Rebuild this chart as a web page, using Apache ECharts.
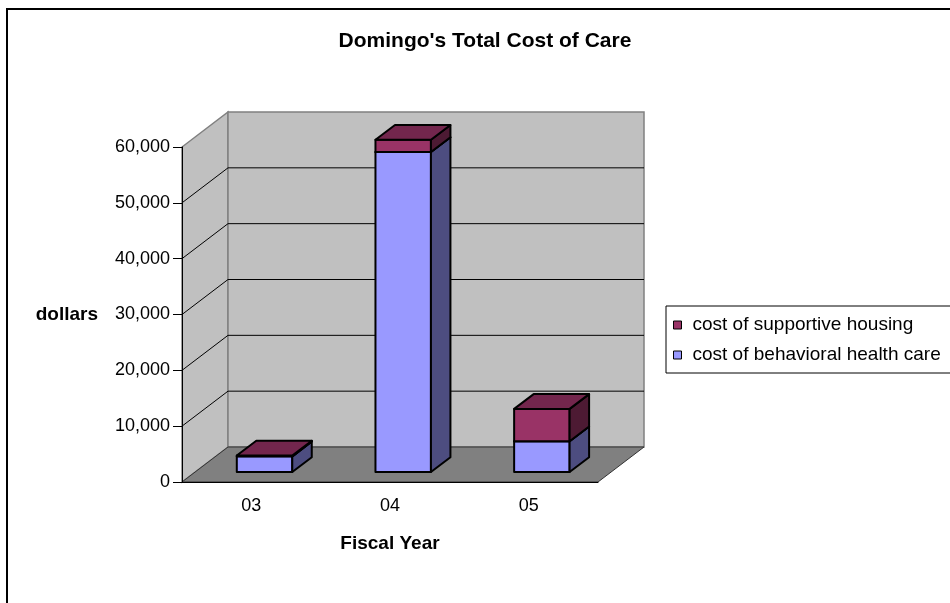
<!DOCTYPE html>
<html>
<head>
<meta charset="utf-8">
<title>Domingo's Total Cost of Care</title>
<script src="https://cdn.jsdelivr.net/npm/echarts@6/dist/echarts.min.js"></script>
<style>
html, body { margin: 0; padding: 0; background: #fff; }
#main { width: 950px; height: 603px; }
</style>
</head>
<body>
<div id="main"></div>
<script>
// values
const categories = ['03', '04', '05']
const behavioralCare = [2800, 57300, 5500]
const supportiveHousing = [150, 2200, 5800]
const housingName = 'cost of supportive housing'
const careName = 'cost of behavioral health care'
const yMax = 60000
const yStep = 10000

// fake 3d depth, in pixels
const WALL_DX = 46, WALL_DY = -35
const BAR_FX = 13.2, BAR_FY = -10
const BAR_DX = 19.5, BAR_DY = -14.8
const BAR_RATIO = 0.4

const FONT = 'Liberation Sans, Arial, sans-serif'

function boxItem (front, side, top) {
  return function (params, api) {
    const i = api.value(0)
    const lo = api.coord([i, api.value(1)])
    const hi = api.coord([i, api.value(2)])
    const w = api.size([1, 0])[0] * BAR_RATIO
    const x0 = lo[0] - w / 2 + BAR_FX
    const x1 = x0 + w
    const yb = lo[1] + BAR_FY
    const yt = hi[1] + BAR_FY
    const edge = { stroke: '#000', lineWidth: 2, lineJoin: 'round' }
    return {
      type: 'group',
      children: [
        { type: 'rect', shape: { x: x0, y: yt, width: w, height: yb - yt }, style: Object.assign({ fill: front }, edge) },
        { type: 'polygon', shape: { points: [[x1, yb], [x1, yt], [x1 + BAR_DX, yt + BAR_DY], [x1 + BAR_DX, yb + BAR_DY]] }, style: Object.assign({ fill: side }, edge) },
        { type: 'polygon', shape: { points: [[x0, yt], [x1, yt], [x1 + BAR_DX, yt + BAR_DY], [x0 + BAR_DX, yt + BAR_DY]] }, style: Object.assign({ fill: top }, edge) }
      ]
    }
  }
}

function wallsItem (params, api) {
  const cs = params.coordSys
  const x = cs.x, y = cs.y, w = cs.width, h = cs.height
  const b = y + h
  const children = [
    { type: 'polygon', shape: { points: [[x, b], [x, y], [x + WALL_DX, y + WALL_DY], [x + WALL_DX, b + WALL_DY]] }, style: { fill: '#c0c0c0', stroke: '#808080', lineWidth: 1.5 } },
    { type: 'rect', shape: { x: x + WALL_DX, y: y + WALL_DY, width: w, height: h }, style: { fill: '#c0c0c0', stroke: '#808080', lineWidth: 1.5 } },
    { type: 'polygon', shape: { points: [[x, b], [x + w, b], [x + w + WALL_DX, b + WALL_DY], [x + WALL_DX, b + WALL_DY]] }, style: { fill: '#808080', stroke: '#333', lineWidth: 1 } }
  ]
  for (let v = yStep; v < yMax; v += yStep) {
    const yy = api.coord([0, v])[1]
    children.push({
      type: 'polyline',
      shape: { points: [[x, yy], [x + WALL_DX, yy + WALL_DY], [x + w + WALL_DX, yy + WALL_DY]] },
      style: { stroke: '#000', lineWidth: 1, fill: null }
    })
  }
  return { type: 'group', children: children }
}

const careData = categories.map((c, i) => [i, 0, behavioralCare[i]])
const housingData = categories.map((c, i) => [i, behavioralCare[i], behavioralCare[i] + supportiveHousing[i]])

let myChart = echarts.init(document.getElementById('main'))
myChart.setOption({
  animation: false,
  backgroundColor: '#fff',
  textStyle: { fontFamily: FONT },
  title: {
    text: "Domingo's Total Cost of Care",
    left: 485,
    top: 31,
    padding: 0,
    textAlign: 'center',
    textStyle: { fontSize: 21, fontWeight: 'bold', color: '#000', fontFamily: FONT }
  },
  graphic: [{
    type: 'rect',
    shape: { x: 7, y: 9, width: 960, height: 620 },
    style: { fill: null, stroke: '#000', lineWidth: 2 },
    z: 100
  }],
  legend: {
    orient: 'vertical',
    left: 666,
    top: 306,
    padding: [9, 40, 8, 7],
    itemGap: 10,
    itemWidth: 8,
    itemHeight: 8,
    icon: 'rect',
    borderColor: '#000',
    borderWidth: 1,
    data: [housingName, careName],
    itemStyle: { borderColor: '#000', borderWidth: 1 },
    textStyle: { fontSize: 19, lineHeight: 20, color: '#000', fontFamily: FONT, padding: [0, 0, 0, 6] },
    selectedMode: false
  },
  grid: { left: 182, top: 147, right: 352, bottom: 121 },
  xAxis: {
    type: 'category',
    data: categories,
    z: 10,
    name: 'Fiscal Year',
    nameLocation: 'middle',
    nameGap: 52,
    nameTextStyle: { fontSize: 19, fontWeight: 'bold', color: '#000', fontFamily: FONT },
    axisLine: { lineStyle: { color: '#000', width: 1 } },
    axisTick: { length: 8, lineStyle: { color: '#000' } },
    axisLabel: { fontSize: 18, color: '#000', margin: 15, fontFamily: FONT },
    splitLine: { show: false }
  },
  yAxis: {
    type: 'value',
    min: 0,
    max: yMax,
    interval: yStep,
    z: 10,
    name: 'dollars',
    nameLocation: 'middle',
    nameRotate: 0,
    nameGap: 84,
    nameTextStyle: { fontSize: 19, fontWeight: 'bold', color: '#000', fontFamily: FONT },
    axisLine: { show: true, lineStyle: { color: '#000', width: 1 } },
    axisTick: { show: true, length: 9, lineStyle: { color: '#000' } },
    axisLabel: {
      fontSize: 18,
      color: '#000',
      margin: 12,
      fontFamily: FONT,
      formatter: v => v.toLocaleString('en-US')
    },
    splitLine: { show: false }
  },
  series: [
    {
      type: 'custom',
      silent: true,
      renderItem: wallsItem,
      data: [[0]],
      z: 1
    },
    {
      name: careName,
      type: 'custom',
      renderItem: boxItem('#9999ff', '#4d4d80', '#7373bf'),
      itemStyle: { color: '#9999ff' },
      data: careData,
      z: 2
    },
    {
      name: housingName,
      type: 'custom',
      renderItem: boxItem('#993366', '#4d1a33', '#73264d'),
      itemStyle: { color: '#993366' },
      data: housingData,
      z: 3
    }
  ]
})
</script>
</body>
</html>
